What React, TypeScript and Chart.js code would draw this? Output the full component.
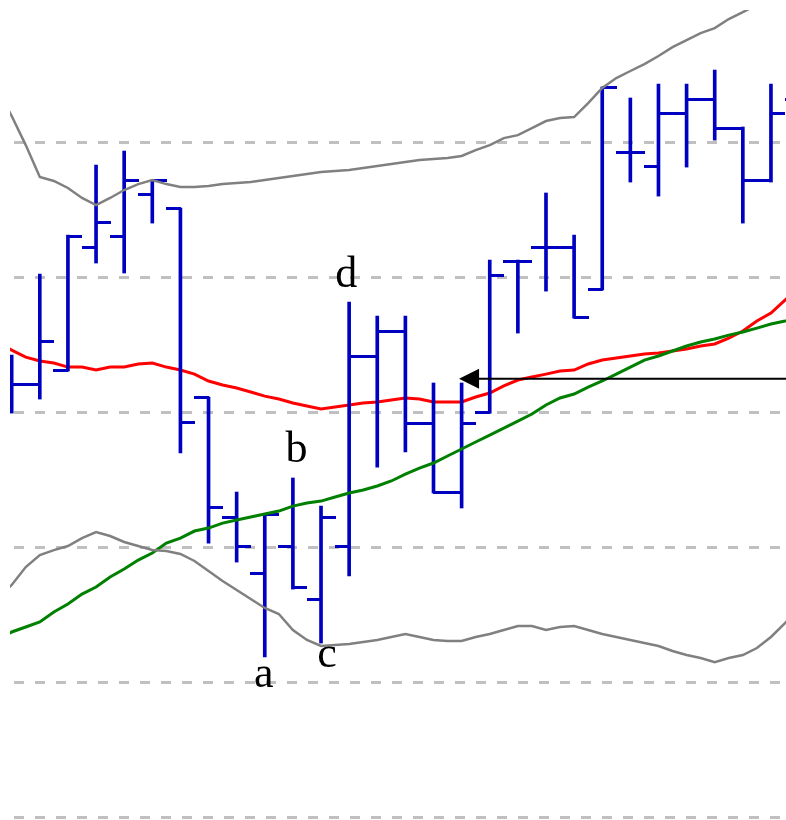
import React, { useEffect, useRef } from 'react';
import { Chart, registerables } from 'chart.js';

Chart.register(...registerables);

// ---- OHLC bars (one per session, index 0..28) ----
const OPEN = [31.27, 32.08, 33.12, 42.23, 42.98, 46.16, 45.12, 31.12, 22.23, 18.01, 20.08, 16.15, 20.08, 34.16, 36.01, 29.19, 24.01, 30.01, 41.20, 42.23, 42.23, 39.12, 49.27, 48.24, 52.16, 53.20, 51.05, 47.20, 53.20];
const HIGH = [34.23, 40.23, 43.12, 48.31, 49.35, 47.20, 45.12, 31.12, 24.08, 22.38, 25.12, 23.04, 38.16, 37.12, 37.12, 32.16, 32.16, 41.27, 41.27, 46.24, 43.12, 54.09, 53.28, 54.31, 54.31, 55.35, 51.13, 54.31, 54.61];
const LOW = [29.93, 30.97, 33.05, 41.05, 40.31, 44.01, 26.97, 20.30, 18.89, 11.86, 16.89, 12.89, 17.86, 25.93, 27.05, 24.01, 22.90, 29.93, 35.86, 38.97, 36.97, 39.05, 47.05, 46.01, 48.16, 50.16, 44.01, 47.05, 50.90];
const CLOSE = [32.08, 35.20, 43.05, 44.09, 47.20, 47.20, 29.27, 22.97, 20.08, 22.38, 16.97, 22.23, 34.16, 36.01, 29.19, 24.01, 29.19, 40.16, 41.20, 42.23, 37.05, 54.09, 49.27, 52.16, 53.20, 51.05, 47.20, 52.16, 52.39];

// ---- Indicator lines, sampled at half-session steps ----
const LINE_X = [
  -0.5, 0, 0.5, 1, 1.5, 2, 2.5, 3,
  3.5, 4, 4.5, 5, 5.5, 6, 6.5, 7,
  7.5, 8, 8.5, 9, 9.5, 10, 10.5, 11,
  11.5, 12, 12.5, 13, 13.5, 14, 14.5, 15,
  15.5, 16, 16.5, 17, 17.5, 18, 18.5, 19,
  19.5, 20, 20.5, 21, 21.5, 22, 22.5, 23,
  23.5, 24, 24.5, 25, 25.5, 26, 26.5, 27,
  27.5, 28,
];
const AVERAGE = [
  35.12, 34.60, 34.08, 33.79, 33.64, 33.34, 33.34, 33.12,
  33.34, 33.34, 33.57, 33.64, 33.34, 33.12, 32.82, 32.31,
  32.01, 31.79, 31.49, 31.19, 30.97, 30.68, 30.45, 30.23,
  30.38, 30.53, 30.68, 30.75, 30.90, 31.05, 30.97, 30.75,
  30.75, 30.75, 31.12, 31.42, 31.94, 32.38, 32.60, 32.82,
  33.05, 33.12, 33.57, 33.86, 34.01, 34.16, 34.31, 34.38,
  34.53, 34.68, 34.90, 35.05, 35.49, 36.01, 36.75, 37.34,
  38.31, 39.20,
];
const TREND = [
  13.12, 13.71, 14.08, 14.45, 15.19, 15.78, 16.52, 17.04,
  17.78, 18.38, 19.04, 19.56, 20.30, 20.67, 21.19, 21.41,
  21.78, 22.01, 22.23, 22.45, 22.67, 23.04, 23.27, 23.41,
  23.71, 24.01, 24.23, 24.53, 24.90, 25.41, 25.86, 26.23,
  26.75, 27.27, 27.79, 28.30, 28.82, 29.34, 29.86, 30.53,
  31.05, 31.34, 31.86, 32.31, 32.82, 33.34, 33.86, 34.16,
  34.53, 34.90, 35.20, 35.42, 35.71, 35.94, 36.23, 36.53,
  36.75, 37.05,
];
const UPPER_BAND = [
  53.94, 51.94, 49.79, 47.42, 47.13, 46.61, 45.87, 45.35,
  45.87, 46.46, 46.90, 47.20, 46.90, 46.68, 46.68, 46.75,
  46.90, 46.98, 47.05, 47.20, 47.35, 47.50, 47.64, 47.79,
  47.87, 47.94, 48.09, 48.24, 48.39, 48.53, 48.68, 48.76,
  48.83, 48.98, 49.42, 49.79, 50.31, 50.53, 51.05, 51.57,
  51.79, 51.87, 52.90, 54.02, 54.76, 55.28, 55.79, 56.39,
  57.05, 57.57, 58.09, 58.46, 59.13, 59.65, 60.17, 60.76,
  61.28, 61.87,
];
const LOWER_BAND = [
  16.23, 17.19, 18.52, 19.41, 19.78, 20.08, 20.67, 21.12,
  20.82, 20.38, 20.08, 19.78, 19.71, 19.49, 18.97, 18.23,
  17.49, 16.82, 16.15, 15.49, 15.04, 13.86, 13.12, 12.67,
  12.74, 12.82, 12.97, 13.12, 13.34, 13.56, 13.34, 13.12,
  13.04, 13.04, 13.34, 13.56, 13.86, 14.15, 14.15, 13.86,
  14.08, 14.15, 13.86, 13.56, 13.34, 13.12, 12.89, 12.67,
  12.30, 12.00, 11.78, 11.48, 11.78, 12.00, 12.52, 13.34,
  14.37, 15.49,
];

// ---- Axes / annotations ----
const GRID_VALUES = [0, 10, 20, 30, 40, 50];
const X_MIN = -0.06;
const X_MAX = 27.535;
const Y_MIN = -0.222;
const Y_MAX = 59.8;
const LABEL_TEXT = ['a', 'b', 'c', 'd'];
const LABEL_BAR = [9, 10, 11, 12];
const LABEL_SIDE = ['low', 'high', 'low', 'high'];
const ARROW_LEVEL = 32.48;
const ARROW_TIP = 15.91;

// styles
const BLUE = '#0000c0';
const LABEL_NUDGE: [number, number][] = [[-1, 30], [3.5, -16], [6, 24], [-3, -15]];

function makeTick(side: 'left' | 'right'): HTMLCanvasElement {
  const c = document.createElement('canvas');
  c.width = 29;
  c.height = 3;
  const ctx = c.getContext('2d')!;
  ctx.fillStyle = BLUE;
  if (side === 'left') ctx.fillRect(0, 0, 15, 3);
  else ctx.fillRect(14, 0, 15, 3);
  return c;
}

const annotationPlugin = {
  id: 'annotations',
  afterDatasetsDraw(chart: any) {
    const { ctx, chartArea } = chart;
    const xs = chart.scales.x;
    const ys = chart.scales.y;
    ctx.save();
    ctx.beginPath();
    ctx.rect(chartArea.left, chartArea.top, chartArea.right - chartArea.left, chartArea.bottom - chartArea.top);
    ctx.clip();

    // arrow
    const ay = ys.getPixelForValue(ARROW_LEVEL);
    const tipX = xs.getPixelForValue(ARROW_TIP);
    ctx.strokeStyle = '#000';
    ctx.lineWidth = 2;
    ctx.beginPath();
    ctx.moveTo(tipX + 16, ay);
    ctx.lineTo(chartArea.right, ay);
    ctx.stroke();
    ctx.fillStyle = '#000';
    ctx.beginPath();
    ctx.moveTo(tipX, ay);
    ctx.lineTo(tipX + 20, ay - 10);
    ctx.lineTo(tipX + 20, ay + 10);
    ctx.closePath();
    ctx.fill();

    // letters
    ctx.font = '44px "Liberation Serif", "Times New Roman", serif';
    ctx.textAlign = 'center';
    ctx.textBaseline = 'alphabetic';
    ctx.fillStyle = '#000';
    LABEL_TEXT.forEach((t, k) => {
      const i = LABEL_BAR[k];
      const below = LABEL_SIDE[k] === 'low';
      const py = ys.getPixelForValue(below ? LOW[i] : HIGH[i]);
      const px = xs.getPixelForValue(i);
      ctx.fillText(t, px + LABEL_NUDGE[k][0], py + LABEL_NUDGE[k][1]);
    });
    ctx.restore();
  },
};

export default function App() {
  const ref = useRef<HTMLCanvasElement>(null);

  useEffect(() => {
    const canvas = ref.current;
    if (!canvas) return;
    const leftTick = makeTick('left');
    const rightTick = makeTick('right');
    const line = (values: number[]) => LINE_X.map((x, k) => ({ x, y: values[k] }));

    const chart = new Chart(canvas, {
      type: 'scatter',
      data: {
        datasets: [
          {
            type: 'line',
            label: 'upper',
            data: line(UPPER_BAND),
            borderColor: '#808080',
            borderWidth: 2.5,
            pointRadius: 0,
            tension: 0,
            fill: false,
            clip: 0,
            order: 0,
          },
          {
            type: 'line',
            label: 'lower',
            data: line(LOWER_BAND),
            borderColor: '#808080',
            borderWidth: 2.5,
            pointRadius: 0,
            tension: 0,
            fill: false,
            clip: 0,
            order: 0,
          },
          {
            type: 'line',
            label: 'trend',
            data: line(TREND),
            borderColor: '#008000',
            borderWidth: 3,
            pointRadius: 0,
            tension: 0,
            fill: false,
            clip: 0,
            order: 1,
          },
          {
            type: 'bar',
            label: 'range',
            data: HIGH.map((h, i) => ({ x: i, y: [LOW[i], h] })) as any,
            backgroundColor: BLUE,
            borderWidth: 0,
            barThickness: 3,
            grouped: false,
            borderSkipped: false,
            order: 2,
          } as any,
          {
            type: 'scatter',
            label: 'open',
            data: OPEN.map((v, i) => ({ x: i, y: v })),
            pointStyle: leftTick as any,
            pointRadius: 15,
            pointBorderWidth: 0,
            showLine: false,
            clip: 0,
            order: 2,
          },
          {
            type: 'scatter',
            label: 'close',
            data: CLOSE.map((v, i) => ({ x: i, y: v })),
            pointStyle: rightTick as any,
            pointRadius: 15,
            pointBorderWidth: 0,
            showLine: false,
            clip: 0,
            order: 2,
          },
          {
            type: 'line',
            label: 'average',
            data: line(AVERAGE),
            borderColor: '#ff0000',
            borderWidth: 3,
            pointRadius: 0,
            tension: 0,
            fill: false,
            clip: 0,
            order: 3,
          },
        ] as any,
      },
      options: {
        responsive: false,
        animation: false,
        devicePixelRatio: 1,
        events: [],
        layout: { autoPadding: false, padding: { left: 10, top: 10, right: 0, bottom: 0 } },
        plugins: {
          legend: { display: false },
          tooltip: { enabled: false },
          title: { display: false },
        },
        scales: {
          x: {
            type: 'linear',
            min: X_MIN,
            max: X_MAX,
            display: false,
            offset: false,
          },
          y: {
            type: 'linear',
            min: Y_MIN,
            max: Y_MAX,
            beginAtZero: false,
            afterBuildTicks: (scale: any) => {
              scale.ticks = GRID_VALUES.map((v) => ({ value: v }));
            },
            ticks: { display: false },
            grid: { color: '#c0c0c0', lineWidth: 3, drawTicks: false },
            border: { display: false, dash: [10, 11], dashOffset: 17 },
          },
        },
      } as any,
      plugins: [annotationPlugin],
    });

    return () => chart.destroy();
  }, []);

  return (
    <div style={{ position: 'absolute', left: 0, top: 0, width: 786, height: 820, background: '#fff' }}>
      <canvas ref={ref} width={786} height={820} style={{ display: 'block', width: 786, height: 820 }} />
    </div>
  );
}
